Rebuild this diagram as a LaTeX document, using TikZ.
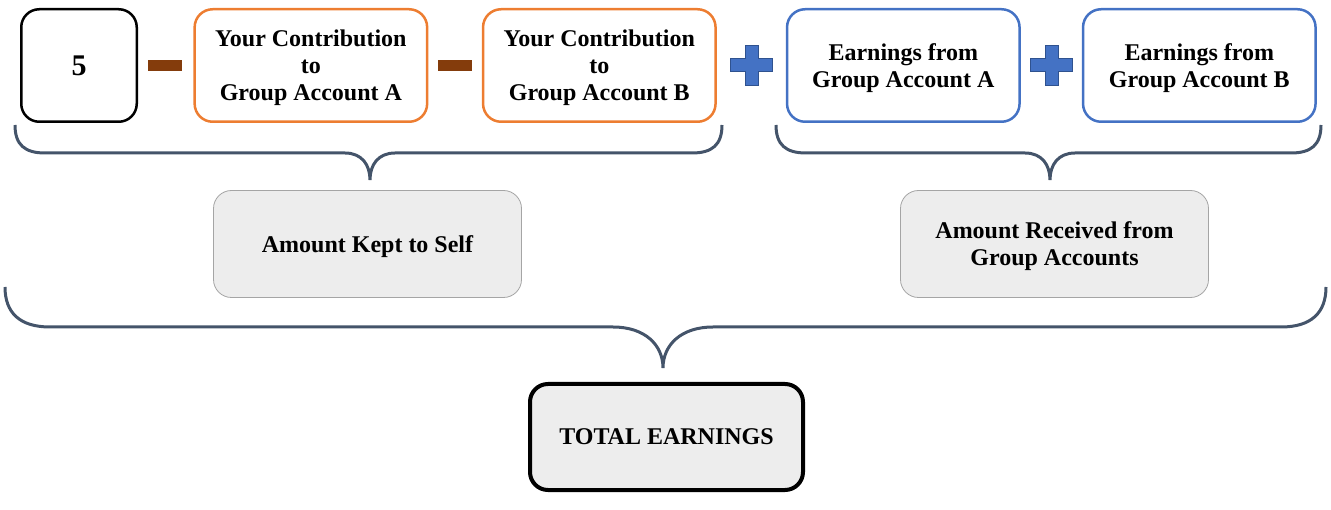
\documentclass[tikz,border=0pt]{standalone}
\usepackage{fontspec}
\setmainfont{Liberation Serif}
\usetikzlibrary{positioning}
\definecolor{accorange}{HTML}{ED7D31}
\definecolor{accblue}{HTML}{4472C4}
\definecolor{plusedge}{HTML}{2F528F}
\definecolor{minusbrown}{HTML}{843C0C}
\definecolor{bracecol}{HTML}{44546A}
\definecolor{sumgray}{HTML}{EDEDED}
\definecolor{sumedge}{HTML}{A5A5A5}

\begin{document}
\begin{tikzpicture}[x=1pt,y=-1pt,
    box/.style={rectangle,draw,rounded corners=18pt,align=center,line width=2.5pt,minimum width=232.5pt,minimum height=112.5pt,text depth=0pt,font=\fontsize{24}{27}\selectfont\bfseries},
    obox/.style={box,draw=accorange},
    bbox/.style={box,draw=accblue},
    sumbox/.style={box,draw=sumedge,fill=sumgray,line width=0.8pt,minimum width=308pt,minimum height=107pt},
    minusbar/.style={rectangle,fill=minusbrown,inner sep=0pt,minimum width=34pt,minimum height=11pt},
    brace/.style={draw=bracecol,line width=3pt},
    plussign/.pic={\draw[fill=accblue,draw=plusedge,line width=1pt] (-21,-6.5) -- (-6.5,-6.5) -- (-6.5,-20) -- (6.5,-20) -- (6.5,-6.5) -- (21,-6.5) -- (21,6.5) -- (6.5,6.5) -- (6.5,20) -- (-6.5,20) -- (-6.5,6.5) -- (-21,6.5) -- cycle;}]
    \useasboundingbox (0,0) rectangle (1331,510);

    % top row
    \node[box,minimum width=115.5pt,font=\fontsize{30}{30}\selectfont\bfseries] (five) at (79,65.5) {5};
    \node[minusbar,right=10pt of five] (m1) {};
    \node[obox,right=11pt of m1] (contA) {Your Contribution\\to\\Group Account A};
    \node[minusbar,right=9pt of contA] (m2) {};
    \node[obox,right=10pt of m2] (contB) {Your Contribution\\to\\Group Account B};
    \coordinate[right=35pt of contB] (p1);
    \node[bbox,right=69pt of contB] (earnA) {Earnings from\\Group Account A};
    \coordinate[right=31pt of earnA] (p2);
    \node[bbox,right=61pt of earnA] (earnB) {Earnings from\\Group Account B};
    \pic at (p1) {plussign};
    \pic at (p2) {plussign};

    % sums
    \node[sumbox] (kept) at (367.5,244) {Amount Kept to Self};
    \node[sumbox] (recv) at (1054.5,244) {Amount Received from\\Group Accounts};
    \node[box,fill=sumgray,line width=4pt,minimum width=273pt,minimum height=106pt] (total) at (666.5,437) {TOTAL EARNINGS};

    % braces
    \draw[brace] (15,125) .. controls (15,145) and (25,153) .. (45,153) -- (345,153)
      .. controls (362,153) and (370,165) .. (370,180)
      .. controls (370,165) and (378,153) .. (395,153) -- (692,153)
      .. controls (712,153) and (722,145) .. (722,125);
    \draw[brace] (776,125) .. controls (776,145) and (786,153) .. (806,153) -- (1025,153)
      .. controls (1042,153) and (1050,165) .. (1050,180)
      .. controls (1050,165) and (1058,153) .. (1075,153) -- (1291,153)
      .. controls (1311,153) and (1321,145) .. (1321,125);
    \draw[brace] (5,287) .. controls (5,313) and (20,327) .. (50,327) -- (613,327)
      .. controls (645,327) and (663,345) .. (663,368)
      .. controls (663,345) and (681,327) .. (713,327) -- (1281,327)
      .. controls (1311,327) and (1326,313) .. (1326,287);
  \end{tikzpicture}
\end{document}
